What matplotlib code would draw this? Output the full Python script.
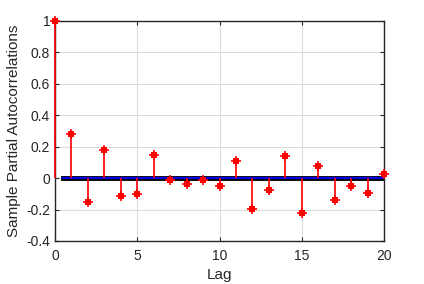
import numpy as np
import matplotlib.pyplot as plt

plt.rcParams['font.family'] = ['Liberation Sans', 'DejaVu Sans']

# partial autocorrelations
lags = list(range(21))
pacf = [1.0, 0.28, -0.155, 0.177, -0.113, -0.104, 0.145, -0.012, -0.04, -0.01,
        -0.047, 0.107, -0.198, -0.077, 0.142, -0.224, 0.079, -0.14, -0.051, -0.096, 0.027]
x_ticks = [0, 5, 10, 15, 20]
y_ticks = [-0.4, -0.2, 0, 0.2, 0.4, 0.6, 0.8, 1]
y_labels = ['-0.4', '-0.2', '0', '0.2', '0.4', '0.6', '0.8', '1']

fig = plt.figure(figsize=(4.24, 2.84), dpi=100)
ax = fig.add_axes([55 / 424, 1 - 241 / 284, 329 / 424, 220 / 284])

txt = '#262626'
ax.grid(True, color='#dcdcdc', linewidth=0.8)
ax.set_axisbelow(True)

ax.vlines(lags, 0, pacf, colors='red', linewidth=1.2, zorder=3, clip_on=False)
# blobby MATLAB-like star marker: small square + plus
ax.plot(lags, pacf, linestyle='none', marker='s', color='red', markersize=4.5,
        markeredgewidth=0, zorder=4, clip_on=False)
ax.plot(lags, pacf, linestyle='none', marker='+', color='red', markersize=7,
        markeredgewidth=1.2, zorder=4, clip_on=False)

# baseline
ax.plot([0.5, 20], [0, 0], color='black', linewidth=3.5, zorder=2)
ax.plot([0.5, 20], [0, 0], color='#0000e0', linewidth=1.6, zorder=2.5)

ax.set_xlim(0, 20)
ax.set_ylim(-0.4, 1)
ax.set_xticks(x_ticks)
ax.set_yticks(y_ticks)
ax.set_yticklabels(y_labels)
ax.tick_params(direction='in', length=3, colors=txt, labelsize=10, top=True, right=True,
               labelcolor=txt)
ax.tick_params(axis='x', pad=6)
for s in ax.spines.values():
    s.set_color(txt)
    s.set_linewidth(1)

ax.set_xlabel('Lag', fontsize=11, color=txt, labelpad=3)
ax.set_ylabel('Sample Partial Autocorrelations', fontsize=11, color=txt, labelpad=4)

fig.savefig('out.png', dpi=100)
